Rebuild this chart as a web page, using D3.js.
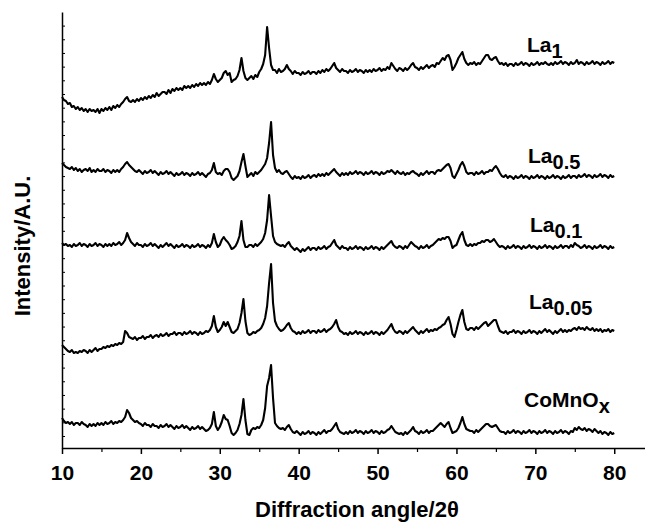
<!DOCTYPE html>
<html><head><meta charset="utf-8">
<script src="https://cdn.jsdelivr.net/npm/d3@7"></script>
<style>body{margin:0;background:#fff;}svg{display:block;}text{font-family:"Liberation Sans",Arial,sans-serif;font-weight:bold;fill:#000;}</style>
</head><body>
<script>
// 2-theta grid: 10..80 deg every 0.25 deg
const angleStart = 10, angleStep = 0.25;
const xTickLabels = [10, 20, 30, 40, 50, 60, 70, 80];
const xMinorTicks = [15, 25, 35, 45, 55, 65, 75];
const seriesNames = ["La1", "La0.5", "La0.1", "La0.05", "CoMnOx"];

const La1 = [
351,348,347,344, 345,341,342,339, 341,338,340,337, 339,336,339,337, 338,336,339,335,
339,337,340,338, 341,338,342,340, 343,341,344,346, 349,351,347,346, 348,346,349,347,
350,348,351,349, 352,350,353,351, 355,352,354,356, 356,354,358,355, 359,357,360,358,
360,358,362,360, 362,360,363,361, 364,362,365,363, 365,363,366,364, 368,374,369,366,
368,370,375,377, 373,375,366,368, 369,372,378,390, 377,370,368,370, 372,369,373,371,
376,379,384,393, 421,400,383,378, 378,375,379,376, 377,379,383,379, 377,374,377,375,
375,373,376,374, 375,377,374,376, 376,374,377,375, 378,376,379,377, 379,382,385,380,
378,376,379,377, 377,375,378,376, 377,379,376,378, 377,375,378,376, 378,376,379,377,
378,380,377,379, 378,381,379,385, 382,379,377,380, 379,377,380,378, 380,383,385,381,
380,378,381,379, 381,383,380,382, 383,381,385,384, 387,390,388,392, 393,388,378,381,
385,390,393,396, 389,385,383,385, 384,386,383,385, 384,387,390,393, 393,389,388,390,
391,387,384,385, 383,385,382,384, 384,382,385,383, 384,386,383,385, 384,382,385,383,
384,386,383,385, 384,386,384,383, 385,383,386,384, 385,387,384,386, 385,383,386,384,
385,388,384,386, 385,383,386,384, 385,387,384,386, 385,383,386,384, 385,387,384,386,
385];

const La05 = [
285,283,281,280, 279,281,278,280, 277,279,276,278, 279,277,280,276, 278,276,279,277,
277,279,276,278, 277,275,278,276, 278,276,279,281, 284,286,283,281, 279,277,276,278,
276,274,277,275, 276,278,275,277, 275,273,276,274, 275,277,274,276, 274,272,275,273,
274,276,273,275, 274,272,275,273, 274,276,273,275, 273,271,274,275, 278,285,276,274,
275,273,277,279, 279,276,270,268, 270,272,277,286, 294,282,271,273, 275,272,276,274,
276,278,281,284, 290,305,326,293, 280,276,278,275, 274,276,277,274, 271,269,272,270,
271,269,272,270, 271,273,270,272, 273,271,274,272, 274,272,275,273, 275,277,279,276,
274,272,275,273, 275,273,276,274, 275,277,274,276, 275,273,276,274, 275,277,274,276,
275,273,276,274, 275,277,276,278, 276,274,277,275, 274,276,273,275, 274,276,277,275,
274,272,275,273, 275,277,274,276, 276,274,277,278, 277,279,281,283, 284,280,272,270,
274,278,283,286, 282,276,274,275, 275,273,276,274, 275,277,274,276, 276,278,277,280,
282,279,275,272, 271,273,270,272, 271,269,272,270, 271,273,270,272, 271,269,272,270,
271,273,270,272, 271,269,272,270, 271,273,270,272, 271,269,272,270, 271,273,270,272,
272,270,273,271, 272,274,271,273, 272,270,273,271, 272,274,271,273, 272,270,273,271,
272];

const La01 = [
205,203,204,202, 203,201,204,202, 203,205,202,204, 203,201,204,202, 203,205,202,204,
203,201,204,202, 204,202,205,203, 204,206,203,205, 208,215,210,206, 204,202,205,203,
203,201,204,202, 203,205,202,204, 202,200,203,201, 203,205,202,204, 202,200,203,201,
202,204,201,203, 202,200,203,201, 202,204,201,203, 202,200,203,201, 205,214,206,201,
203,208,211,208, 206,203,199,200, 202,206,212,227, 208,201,201,203, 203,201,204,202,
204,206,209,215, 228,253,232,212, 206,204,203,202, 203,201,204,206, 202,200,198,200,
198,196,199,197, 199,201,198,200, 200,198,201,199, 200,202,199,201, 202,205,208,203,
201,199,202,200, 200,198,201,199, 200,202,199,201, 200,198,201,199, 200,202,199,201,
200,198,201,199, 201,203,205,207, 203,201,200,202, 201,199,202,200, 203,206,204,202,
201,199,202,200, 201,203,200,202, 203,205,207,209, 208,210,209,211, 211,207,200,202,
203,208,213,216, 208,203,202,204, 202,204,203,205, 205,207,206,208, 208,206,207,209,
206,203,201,202, 201,199,202,200, 201,203,200,202, 201,199,202,200, 201,203,200,202,
201,199,202,200, 201,203,200,202, 201,199,202,200, 201,203,200,202, 202,200,203,201,
205,203,202,200, 201,203,200,202, 201,199,202,200, 201,203,200,202, 201,199,202,200,
201];

const La005 = [
103,101,99,97, 96,98,95,96, 95,97,96,98, 97,95,98,96, 98,100,97,99,
99,101,100,102, 101,103,102,104, 103,105,104,106, 117,115,111,110, 109,111,108,110,
110,112,109,111, 111,113,110,112, 113,111,114,112, 113,115,112,114, 114,116,113,115,
115,113,116,114, 115,117,114,116, 115,113,116,114, 115,117,116,118, 122,132,121,116,
118,121,126,122, 126,121,116,115, 117,119,125,135, 149,127,115,113, 114,116,115,117,
118,120,124,130, 142,165,184,145, 127,122,119,117, 118,120,123,125, 120,117,116,114,
116,114,117,115, 116,118,115,117, 117,115,118,116, 117,119,116,118, 119,121,124,128,
121,117,116,114, 115,113,116,114, 115,117,114,116, 115,113,116,114, 115,117,114,116,
115,113,116,114, 116,118,121,124, 119,116,115,117, 116,114,117,115, 117,119,121,118,
116,114,117,115, 117,119,116,118, 117,119,118,120, 121,123,124,128, 131,124,114,111,
118,126,133,138, 126,119,118,120, 120,118,121,119, 121,123,125,126, 122,124,126,128,
128,122,117,116, 115,117,114,116, 116,118,115,117, 116,114,117,115, 116,118,115,117,
116,114,117,115, 117,119,116,118, 116,114,117,115, 117,119,116,118, 116,118,117,119,
120,118,121,119, 120,118,121,119, 118,120,117,119, 117,119,116,118, 117,119,116,118,
117];

const CoMnOx = [
30,27,25,26, 24,26,23,25, 25,23,26,24, 23,21,24,22, 24,22,25,23,
25,23,26,24, 25,27,24,26, 25,27,26,28, 31,38,35,30, 28,26,27,25,
24,22,25,23, 23,21,24,22, 22,20,23,21, 22,24,21,23, 21,19,22,20,
21,23,20,22, 20,18,21,19, 20,22,19,21, 19,17,18,20, 24,36,22,18,
21,26,33,29, 28,22,15,13, 15,18,24,33, 49,28,14,13, 18,20,19,21,
20,23,28,40, 62,70,83,50, 25,22,20,19, 20,18,21,23, 19,16,15,17,
15,13,16,14, 15,17,14,16, 15,13,16,14, 16,18,15,17, 17,19,22,25,
19,16,15,14, 16,14,17,15, 16,18,15,17, 16,14,17,15, 16,18,15,17,
16,14,17,15, 16,18,19,22, 19,16,15,14, 15,13,16,14, 16,18,21,17,
16,14,17,15, 16,18,15,17, 17,19,21,23, 25,23,21,24, 26,20,15,16,
17,20,25,31, 24,19,18,17, 17,15,18,16, 18,20,22,24, 24,22,21,22,
23,20,17,16, 16,14,17,15, 16,18,15,17, 16,14,17,15, 16,18,15,17,
16,14,17,15, 16,18,15,17, 16,14,17,15, 16,18,15,17, 16,14,17,16,
20,18,21,19, 18,20,17,19, 18,16,19,17, 15,17,14,16, 15,13,16,14,
15];

const seriesValues = [La1, La05, La01, La005, CoMnOx];

const W = 645, H = 523;
const svg = d3.select("body").append("svg").attr("width", W).attr("height", H);

const x = d3.scaleLinear().domain([10, 83.9]).range([62, 645]);
const y = d3.scaleLinear().domain([0, 436]).range([448, 12]);

// traces
const line = d3.line()
  .x((d, i) => x(angleStart + i * angleStep))
  .y(d => y(d));
svg.append("g").selectAll("path").data(seriesValues).join("path")
  .attr("d", d => line(d))
  .attr("fill", "none").attr("stroke", "#000")
  .attr("stroke-width", 2.1).attr("stroke-linejoin", "round");

// x axis
const xAxis = svg.append("g").attr("transform", "translate(0,448)")
  .call(d3.axisBottom(x).tickValues(xTickLabels).tickSize(6).tickSizeOuter(0).tickPadding(11).tickFormat(d3.format("d")));
xAxis.select(".domain").attr("stroke-width", 1.5);
xAxis.selectAll(".tick line").attr("stroke-width", 1.5);
xAxis.selectAll(".tick text").attr("font-size", 21).attr("font-family", "Liberation Sans, Arial, sans-serif").attr("font-weight", "bold");
svg.append("g").attr("transform", "translate(0,448)")
  .call(d3.axisBottom(x).tickValues(xMinorTicks).tickSize(4).tickFormat(""))
  .call(g => g.select(".domain").remove())
  .selectAll(".tick line").attr("stroke-width", 1.2);

// y axis (no labels, inward minor ticks)
const yTickVals = d3.range(12, 430, 13.68);
const yAxis = svg.append("g").attr("transform", "translate(62,0)")
  .call(d3.axisRight(y).tickValues(yTickVals).tickSize(3).tickSizeOuter(0).tickFormat(""));
yAxis.select(".domain").attr("stroke-width", 1.5);
yAxis.selectAll(".tick line").attr("stroke-width", 1);

// axis titles
svg.append("text").attr("x", 255).attr("y", 517).attr("font-size", 22)
  .text("Diffraction angle/2θ");
svg.append("text").attr("transform", "translate(30,246) rotate(-90)")
  .attr("text-anchor", "middle").attr("font-size", 22).text("Intensity/A.U.");

// series labels
const labelMain = ["La", "La", "La", "La", "CoMnO"];
const labelSub = ["1", "0.5", "0.1", "0.05", "x"];
const labelPos = [[527, 52], [528, 163], [530, 232], [529, 309], [524, 407]];
labelMain.forEach((m, i) => {
  const t = svg.append("text").attr("x", labelPos[i][0]).attr("y", labelPos[i][1]).attr("font-size", 21);
  t.append("tspan").text(m);
  t.append("tspan").attr("dy", 6).attr("font-size", 20).text(labelSub[i]);
});
</script>
</body></html>
